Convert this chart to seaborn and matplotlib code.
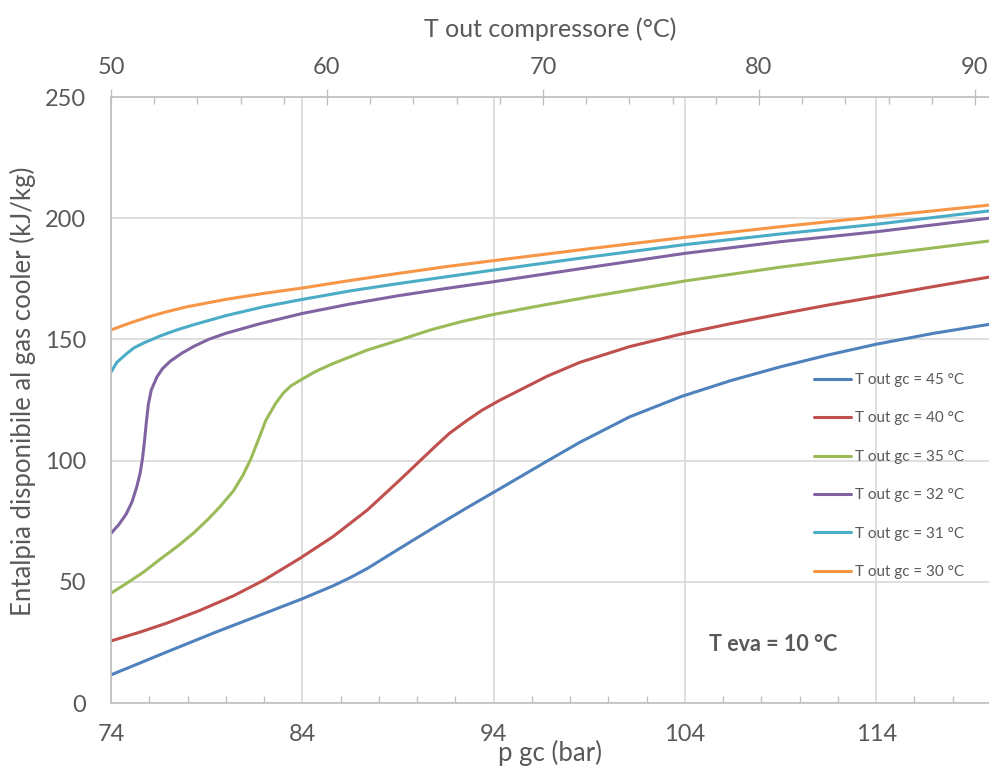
import matplotlib
matplotlib.use("Agg")
import matplotlib.pyplot as plt
import seaborn as sns
import pandas as pd
from matplotlib.ticker import MultipleLocator

# ---- data ----
series_labels = ["T out gc = 45 °C", "T out gc = 40 °C", "T out gc = 35 °C",
                 "T out gc = 32 °C", "T out gc = 31 °C", "T out gc = 30 °C"]
series_colors = ["#4F81BD", "#C0504D", "#9BBB59", "#8064A2", "#4BACC6", "#F79646"]

p_45 = [74, 76.9, 79.5, 82.1, 84, 85.6, 86.5, 87.4, 89.1, 90.9, 92.6, 94.35, 96.8, 98.5,
        101.1, 103.8, 106.4, 109, 111.5, 114, 117, 119.9]
h_45 = [11.6, 21, 29.3, 37.2, 43, 48.3, 51.7, 55.5, 63.8, 72.5, 80.5, 88.5, 99.8, 107.5,
        118, 126.4, 133, 138.7, 143.6, 148, 152.5, 156.2]

p_40 = [74, 75.5, 76.9, 78.65, 80.4, 82, 83.9, 85.6, 87.4, 89.1, 90.9, 91.7, 92.6, 93.4,
        94.35, 96.8, 98.5, 101.1, 103.8, 106.4, 109, 111.5, 114, 117, 119.9]
h_40 = [25.6, 29.2, 32.9, 38.2, 44.2, 50.7, 59.8, 68.6, 79.6, 92, 105.5, 111.3, 116.5, 120.8,
        125, 134.8, 140.5, 147, 152.2, 156.5, 160.5, 164.2, 167.6, 171.8, 175.7]

p_35 = [74, 74.8, 75.7, 76.6, 77.5, 78.3, 79.1, 79.7, 80.4, 80.9, 81.3, 81.7, 82.1,
        82.6, 83, 83.4, 83.9, 84.7, 85.6, 87.4, 89.1, 90.7, 92.3, 94, 96.5, 99,
        104, 109, 114, 119.9]
h_35 = [45.3, 49.3, 54, 59.5, 64.8, 70, 76, 81, 87.5, 94, 100.5, 108.5, 116.7,
        123.5, 127.8, 130.8, 133.2, 136.8, 140, 145.6, 149.8, 153.9, 157.3, 160.3, 164, 167.5,
        174.1, 179.8, 184.8, 190.6]

p_32 = [74, 74.4, 74.8, 75.1, 75.34, 75.52, 75.65, 75.75, 75.85, 75.95, 76.1, 76.4,
        76.7, 77.1, 77.7, 78.3, 79.1, 80, 81.8, 84, 86.5, 89, 91.5, 94, 99, 104,
        109, 114, 119.9]
h_32 = [70, 73.5, 78, 83, 89, 94.7, 101, 108, 116, 123, 129, 134.5,
        138, 141, 144.3, 147, 150, 152.5, 156.5, 160.7, 164.6, 168, 171, 173.8, 179.7, 185.5,
        190.3, 194.4, 200]

p_31 = [74, 74.3, 74.8, 75.2, 75.7, 76.6, 77.4, 78.3, 80, 82, 84, 86.5, 89, 94, 99,
        104, 109, 114, 119.9]
h_31 = [136.5, 140.5, 144, 146.5, 148.5, 151.5, 153.8, 156, 159.8, 163.5, 166.5, 170,
        173, 178.6, 184, 189.1, 193.5, 197.5, 203]

p_30 = [74, 75, 76, 77, 78, 80, 82, 84, 86.5, 89, 91.5, 94, 99, 104, 109, 114, 119.9]
h_30 = [153.9, 156.8, 159.4, 161.6, 163.5, 166.5, 169, 171.2, 174.3, 177.2, 180, 182.5,
        187.4, 192.1, 196.5, 200.6, 205.4]

x_ticks = [74, 84, 94, 104, 114]
top_ticks = [50, 60, 70, 80, 90]
y_ticks = [0, 50, 100, 150, 200, 250]

all_p = [p_45, p_40, p_35, p_32, p_31, p_30]
all_h = [h_45, h_40, h_35, h_32, h_31, h_30]
frames = []
for lab, pp, hh in zip(series_labels, all_p, all_h):
    frames.append(pd.DataFrame({"p": pp, "h": hh, "serie": lab}))
df = pd.concat(frames, ignore_index=True)

# ---- style ----
sns.set_style("white")
plt.rcParams["font.family"] = ["Lato", "DejaVu Sans"]
txt = "#595959"
grid_c = "#d9d9d9"
axis_c = "#bfbfbf"

fig = plt.figure(figsize=(9.89, 7.67), dpi=100)
ax = fig.add_axes([111 / 989, 1 - 703 / 767, 878 / 989, 606 / 767])

sns.lineplot(data=df, x="p", y="h", hue="serie", hue_order=series_labels,
             palette=series_colors, estimator=None, sort=False, units="serie",
             linewidth=2.2, ax=ax)
for ln in ax.get_lines():
    ln.set_solid_joinstyle("round")
    ln.set_solid_capstyle("round")

ax.set_xlim(74, 119.9)
ax.set_ylim(0, 250)
ax.set_xticks(x_ticks)
ax.set_yticks(y_ticks)
ax.xaxis.set_minor_locator(MultipleLocator(2))
ax.yaxis.set_minor_locator(MultipleLocator(10))
ax.grid(True, which="major", color=grid_c, linewidth=1.2)
ax.set_axisbelow(True)
for s in ["top", "right"]:
    ax.spines[s].set_visible(False)
for s in ["left", "bottom"]:
    ax.spines[s].set_color(axis_c)
    ax.spines[s].set_linewidth(1.2)
ax.tick_params(axis="both", which="major", direction="in", length=0,
               labelsize=17, labelcolor=txt, color=axis_c)
ax.tick_params(axis="x", which="major", pad=15)
ax.tick_params(axis="y", which="major", pad=18)
ax.tick_params(axis="both", which="minor", direction="in", length=5,
               width=1, color=axis_c)

ax.set_xlabel("p gc (bar)", fontsize=18.5, color=txt)
ax.xaxis.set_label_coords(0.5, (703 - 740) / 606)
ax.set_ylabel("Entalpia disponibile al gas cooler (kJ/kg)", fontsize=18.5, color=txt)
ax.yaxis.set_label_coords((36 - 111) / 878, 0.515)

ax.text(108.6, 24, "T eva = 10 °C", ha="center", va="center",
        fontsize=15.5, fontweight="bold", color=txt)

# legend
leg = ax.get_legend()
handles = leg.legend_handles
labels = [t.get_text() for t in leg.get_texts()]
leg.remove()
new_leg = ax.legend(handles, labels, loc="upper left",
                    bbox_to_anchor=(814 / 989, 1 - 373 / 767),
                    bbox_transform=fig.transFigure, frameon=False,
                    fontsize=11, handlelength=2.4, handletextpad=0.3,
                    labelspacing=1.6, borderpad=0, borderaxespad=0)
for t in new_leg.get_texts():
    t.set_color(txt)
for h in new_leg.legend_handles:
    h.set_linewidth(2.2)

# top secondary axis
ax2 = ax.twiny()
ax2.set_xlim(50, 90.65)
ax2.set_xticks(top_ticks)
ax2.xaxis.set_minor_locator(MultipleLocator(2))
ax2.grid(False)
for s in ["left", "right", "bottom"]:
    ax2.spines[s].set_visible(False)
ax2.spines["top"].set_color(axis_c)
ax2.spines["top"].set_linewidth(1.2)
ax2.tick_params(axis="x", which="major", direction="inout", length=11,
                width=1, color=axis_c, labelsize=17, labelcolor=txt, pad=8)
ax2.tick_params(axis="x", which="minor", direction="in", length=5,
                width=1, color=axis_c)
ax2.set_xlabel("T out compressore (°C)", fontsize=18, color=txt)
ax2.xaxis.set_label_coords(0.5, (703 - 37) / 606)

fig.savefig("out.png", dpi=100)
